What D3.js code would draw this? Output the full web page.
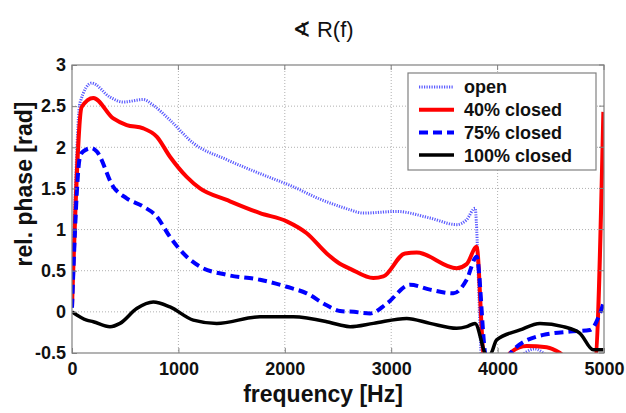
<!DOCTYPE html>
<html><head><meta charset="utf-8">
<script src="https://cdn.jsdelivr.net/npm/d3@7"></script>
<style>
body{margin:0;background:#fff;}
svg text{font-family:"Liberation Sans",Arial,sans-serif;}
</style></head>
<body><svg id="c" width="626" height="413"></svg>
<script>
const titleSymbol = "\u2222";
const titleText = " R(f)";
const xLabel = "frequency [Hz]";
const yLabel = "rel. phase [rad]";
const xTicks = [0,1000,2000,3000,4000,5000];
const yTicks = [-0.5,0,0.5,1,1.5,2,2.5,3];
const seriesNames = ["open","40% closed","75% closed","100% closed"];

const openData = [[0,0.05],[75,2.54],[185,2.78],[357,2.61],[482,2.55],[670,2.58],[764,2.51],[921,2.33],[1140,2.05],[1454,1.85],[1767,1.68],[2080,1.52],[2330,1.37],[2519,1.28],[2613,1.24],[2738,1.2],[3051,1.22],[3365,1.14],[3615,1.06],[3709,1.12],[3788,1.26],[3850,-0.6],[3900,-0.9],[4200,-0.55],[4350,-0.45],[4450,-0.52],[4600,-0.7],[5000,-0.7]];
const closed40Data = [[0,0.06],[91,2.49],[200,2.6],[388,2.35],[514,2.27],[670,2.23],[796,2.13],[921,1.885],[1078,1.64],[1203,1.5],[1454,1.36],[1767,1.2],[2018,1.1],[2206,0.955],[2394,0.71],[2500,0.6],[2620,0.52],[2832,0.41],[2926,0.43],[3130,0.71],[3240,0.72],[3615,0.53],[3709,0.58],[3803,0.79],[3866,-0.5],[3950,-0.9],[4117,-0.5],[4273,-0.415],[4461,-0.43],[4586,-0.5],[4750,-0.7],[4916,-0.6],[4994,2.43]];
const closed75Data = [[0,0.05],[75,1.885],[106,1.95],[185,1.99],[232,1.95],[388,1.52],[514,1.38],[670,1.28],[796,1.16],[921,0.91],[1078,0.67],[1203,0.55],[1454,0.45],[1767,0.39],[2018,0.305],[2206,0.225],[2394,0.08],[2519,0.01],[2650,0.0],[2801,-0.02],[2958,0.1],[3177,0.33],[3365,0.27],[3584,0.225],[3709,0.39],[3803,0.67],[3882,-0.5],[3950,-0.8],[4100,-0.55],[4148,-0.46],[4430,-0.28],[4680,-0.24],[4868,-0.22],[4962,-0.02],[4994,0.1]];
const closed100Data = [[0,0.0],[138,-0.1],[200,-0.12],[357,-0.18],[451,-0.14],[608,0.04],[764,0.12],[921,0.06],[1140,-0.1],[1360,-0.14],[1767,-0.06],[2080,-0.06],[2394,-0.12],[2519,-0.16],[2613,-0.18],[2832,-0.14],[3146,-0.08],[3365,-0.14],[3615,-0.2],[3709,-0.18],[3788,-0.14],[3897,-0.52],[3929,-0.52],[3991,-0.34],[4211,-0.22],[4398,-0.14],[4617,-0.18],[4774,-0.26],[4899,-0.46],[4994,-0.46]];

const series = [
  {name:seriesNames[0], data:openData, color:"#5b5bff", width:3, dash:"1.2,1.3"},
  {name:seriesNames[1], data:closed40Data, color:"#ff0000", width:4, dash:null},
  {name:seriesNames[2], data:closed75Data, color:"#0000ff", width:4, dash:"9,5"},
  {name:seriesNames[3], data:closed100Data, color:"#000000", width:3.5, dash:null}
];

const svg = d3.select("#c");
const L=72, R=604, T=65, B=353;
const x = d3.scaleLinear().domain([0,5000]).range([L,R]);
const y = d3.scaleLinear().domain([-0.5,3]).range([B,T]);

const g = svg.append("g");
g.selectAll(".gx").data(xTicks.slice(1,-1)).enter().append("line")
  .attr("x1",d=>x(d)).attr("x2",d=>x(d)).attr("y1",T).attr("y2",B)
  .attr("stroke","#b0b0b0").attr("stroke-width",1).attr("stroke-dasharray","1,2");
g.selectAll(".gy").data(yTicks.slice(1,-1)).enter().append("line")
  .attr("y1",d=>y(d)).attr("y2",d=>y(d)).attr("x1",L).attr("x2",R)
  .attr("stroke","#b0b0b0").attr("stroke-width",1).attr("stroke-dasharray","1,2");

svg.append("defs").append("clipPath").attr("id","clip")
  .append("rect").attr("x",L).attr("y",T).attr("width",R-L).attr("height",B-T);

const line = d3.line().x(d=>x(d[0])).y(d=>y(d[1])).curve(d3.curveMonotoneX);
const lines = svg.append("g").attr("clip-path","url(#clip)");
series.forEach(s=>{
  lines.append("path").datum(s.data).attr("d",line)
    .attr("fill","none").attr("stroke",s.color).attr("stroke-width",s.width)
    .attr("stroke-linejoin","round")
    .attr("stroke-dasharray",s.dash);
});

svg.append("rect").attr("x",L).attr("y",T).attr("width",R-L).attr("height",B-T)
  .attr("fill","none").attr("stroke","#808080").attr("stroke-width",1.2);

const xAxis = d3.axisBottom(x).tickValues(xTicks).tickSize(-5).tickPadding(9).tickFormat(d3.format("d"));
const xa = svg.append("g").attr("transform",`translate(0,${B})`).call(xAxis);
const yAxis = d3.axisLeft(y).tickValues(yTicks).tickSize(-5).tickPadding(6).tickFormat(d=>String(d));
const ya = svg.append("g").attr("transform",`translate(${L},0)`).call(yAxis);
[xa,ya].forEach(a=>{
  a.select(".domain").remove();
  a.selectAll(".tick line").attr("stroke","#808080");
  a.selectAll(".tick text").attr("font-size",18).attr("font-weight","bold")
    .attr("fill","#111").style("font-family","'Liberation Sans',Arial,sans-serif");
});
svg.selectAll(".tt").data(xTicks).enter().append("line")
  .attr("x1",d=>x(d)).attr("x2",d=>x(d)).attr("y1",T).attr("y2",T+5).attr("stroke","#808080");
svg.selectAll(".tr").data(yTicks).enter().append("line")
  .attr("x1",R-5).attr("x2",R).attr("y1",d=>y(d)).attr("y2",d=>y(d)).attr("stroke","#808080");

const tt = svg.append("text").attr("x",323).attr("y",37).attr("text-anchor","middle")
  .attr("font-size",22).attr("fill","#111");
tt.append("tspan").style("font-family","'DejaVu Sans',sans-serif").attr("font-weight","bold").text(titleSymbol);
tt.append("tspan").style("font-family","'Liberation Sans',Arial,sans-serif").text(titleText);

svg.append("text").attr("x",(L+R)/2-15).attr("y",402).attr("text-anchor","middle")
  .attr("font-size",23).attr("font-weight","bold").attr("fill","#111").text(xLabel);
svg.append("text").attr("transform","translate(32,184) rotate(-90)").attr("text-anchor","middle")
  .attr("font-size",23).attr("font-weight","bold").attr("fill","#111").text(yLabel);

const lg = svg.append("g");
lg.append("rect").attr("x",408).attr("y",73).attr("width",188).attr("height",97)
  .attr("fill","#fff").attr("stroke","#808080").attr("stroke-width",1.2);
series.forEach((s,i)=>{
  const yy = 87 + i*22.7;
  lg.append("line").attr("x1",419).attr("x2",454).attr("y1",yy).attr("y2",yy)
    .attr("stroke",s.color).attr("stroke-width",s.width).attr("stroke-dasharray",s.dash);
  lg.append("text").attr("x",464).attr("y",yy).attr("dy","0.36em")
    .attr("font-size",18).attr("font-weight","bold").attr("fill","#111").text(s.name);
});
</script></body></html>
